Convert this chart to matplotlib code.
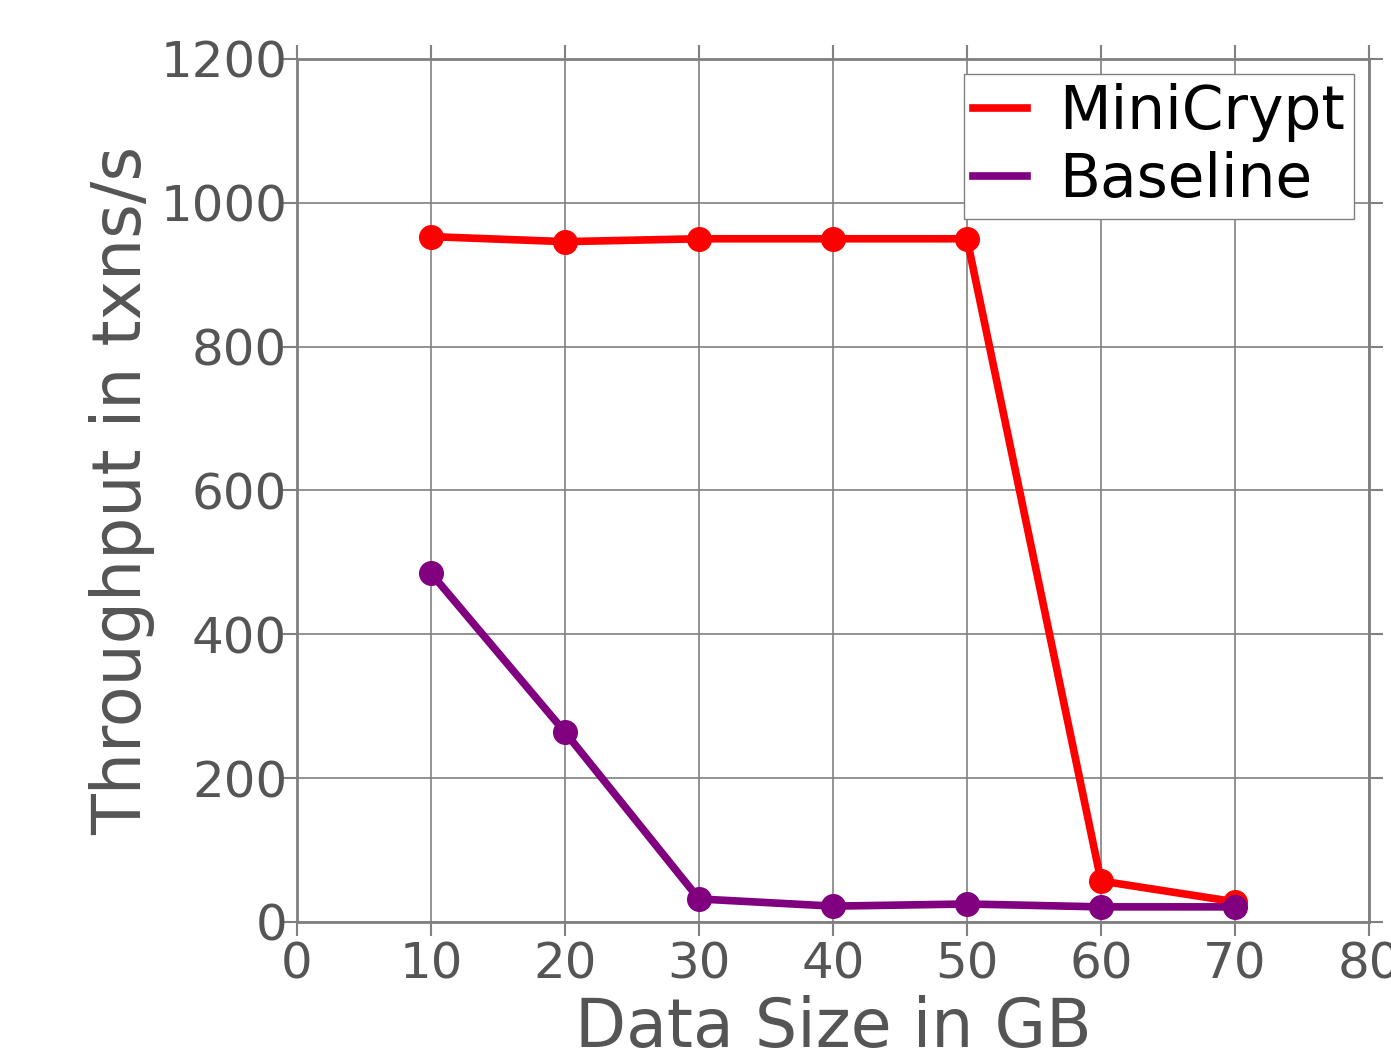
import matplotlib
matplotlib.use("Agg")
import matplotlib.pyplot as plt

sizes_gb = [10, 20, 30, 40, 50, 60, 70]
minicrypt = [953, 946, 950, 950, 950, 57, 28]
baseline = [485, 264, 32, 22, 25, 21, 21]

GRAY = "#808080"
TEXT = "#555555"

fig = plt.figure(figsize=(13.91, 10.59), dpi=100)
ax = fig.add_axes([0.2135, 0.1294, 0.7707, 0.8149])

ax.plot(sizes_gb, minicrypt, color="red", lw=5.5, marker="o", markersize=17,
        label="MiniCrypt", zorder=3)
ax.plot(sizes_gb, baseline, color="purple", lw=5.5, marker="o", markersize=17,
        label="Baseline", zorder=4)

ax.set_xlim(0, 80)
ax.set_ylim(0, 1200)
ax.set_xticks(range(0, 81, 10))
ax.set_yticks(range(0, 1201, 200))
ax.grid(True, color=GRAY, lw=1.2)
ax.set_axisbelow(True)

for sp in ax.spines.values():
    sp.set_color(GRAY)
    sp.set_linewidth(2)
ax.tick_params(direction="out", length=10, width=1.5, color=GRAY,
               labelsize=36, labelcolor=TEXT, top=True, right=True)
ax.tick_params(axis="x", pad=3)
ax.tick_params(axis="y", pad=-3)

ax.set_xlabel("Data Size in GB", fontsize=48, color=TEXT, labelpad=5)
ax.set_ylabel("Throughput in txns/s", fontsize=48, color=TEXT, labelpad=4)

leg = ax.legend(loc="upper right", fontsize=43, fancybox=False, framealpha=1,
                handlelength=0.9, handletextpad=0.55, borderaxespad=0.25,
                borderpad=0.15, labelspacing=0.15)
leg.get_frame().set_edgecolor(GRAY)
for h in leg.get_lines():
    h.set_marker("")

fig.savefig("out.png", dpi=100)
